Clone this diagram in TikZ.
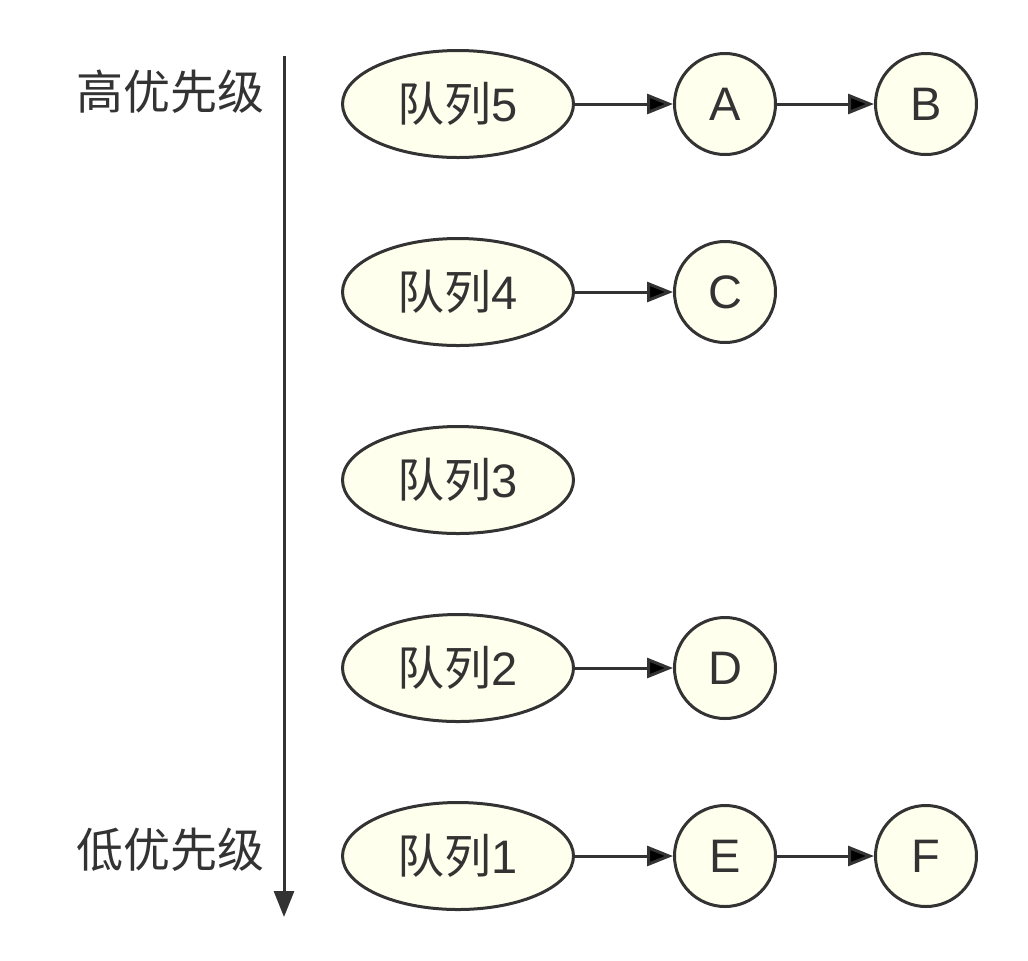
\documentclass[tikz,border=0pt]{standalone}
\usepackage{fontspec}
\setmainfont{Liberation Sans}
\newfontfamily\cjk{Noto Sans CJK SC}
\usetikzlibrary{shapes.geometric,arrows.meta,positioning}
\definecolor{nodefill}{HTML}{FFFFEE}
\definecolor{ink}{HTML}{333333}
\newcommand{\queuename}[1]{{\cjk 队列}#1}

\begin{document}
\begin{tikzpicture}[x=0.5pt, y=-0.5pt,
      queue/.style={ellipse, draw=ink, fill=nodefill, line width=1.5pt, inner sep=0pt, minimum width=115.5pt, minimum height=53.5pt, text=ink, font=\fontsize{23.5}{28}\selectfont},
      vertex/.style={circle, draw=ink, fill=nodefill, line width=1.5pt, inner sep=0pt, minimum size=50.5pt, node distance=100.5pt, text=ink, font=\fontsize{23.5}{28}\selectfont},
      prio/.style={text=ink, font=\fontsize{23.5}{28}\cjk},
      pfeil/.style={-{Triangle[length=13pt,width=10pt]}, draw=ink, line width=1.5pt}]

\useasboundingbox (0,0) rectangle (1028,960);

\node[prio] (high) at (170,92) {高优先级};
\node[prio] (low) at (170,850) {低优先级};
\coordinate (top) at (284,56);
\coordinate (bot) at (284,917);
\draw[pfeil] (top) -- (bot);

\node[queue] (q5) at (458,104) {\queuename{5}};
\node[queue] (q4) at (458,292) {\queuename{4}};
\node[queue] (q3) at (458,480) {\queuename{3}};
\node[queue] (q2) at (458,668) {\queuename{2}};
\node[queue] (q1) at (458,856) {\queuename{1}};
\node[vertex,right of=q5,node distance=133.5pt] (a) {A};
\node[vertex,right of=a] (b) {B};
\node[vertex,right of=q4,node distance=133.5pt] (c) {C};
\node[vertex,right of=q2,node distance=133.5pt] (d) {D};
\node[vertex,right of=q1,node distance=133.5pt] (e) {E};
\node[vertex,right of=e] (f) {F};
\draw[pfeil] (q5) edge (a);
\draw[pfeil] (a) edge (b);
\draw[pfeil] (q4) edge (c);
\draw[pfeil] (q2) edge (d);
\draw[pfeil] (q1) edge (e);
\draw[pfeil] (e) edge (f);

\end{tikzpicture}
\end{document}
